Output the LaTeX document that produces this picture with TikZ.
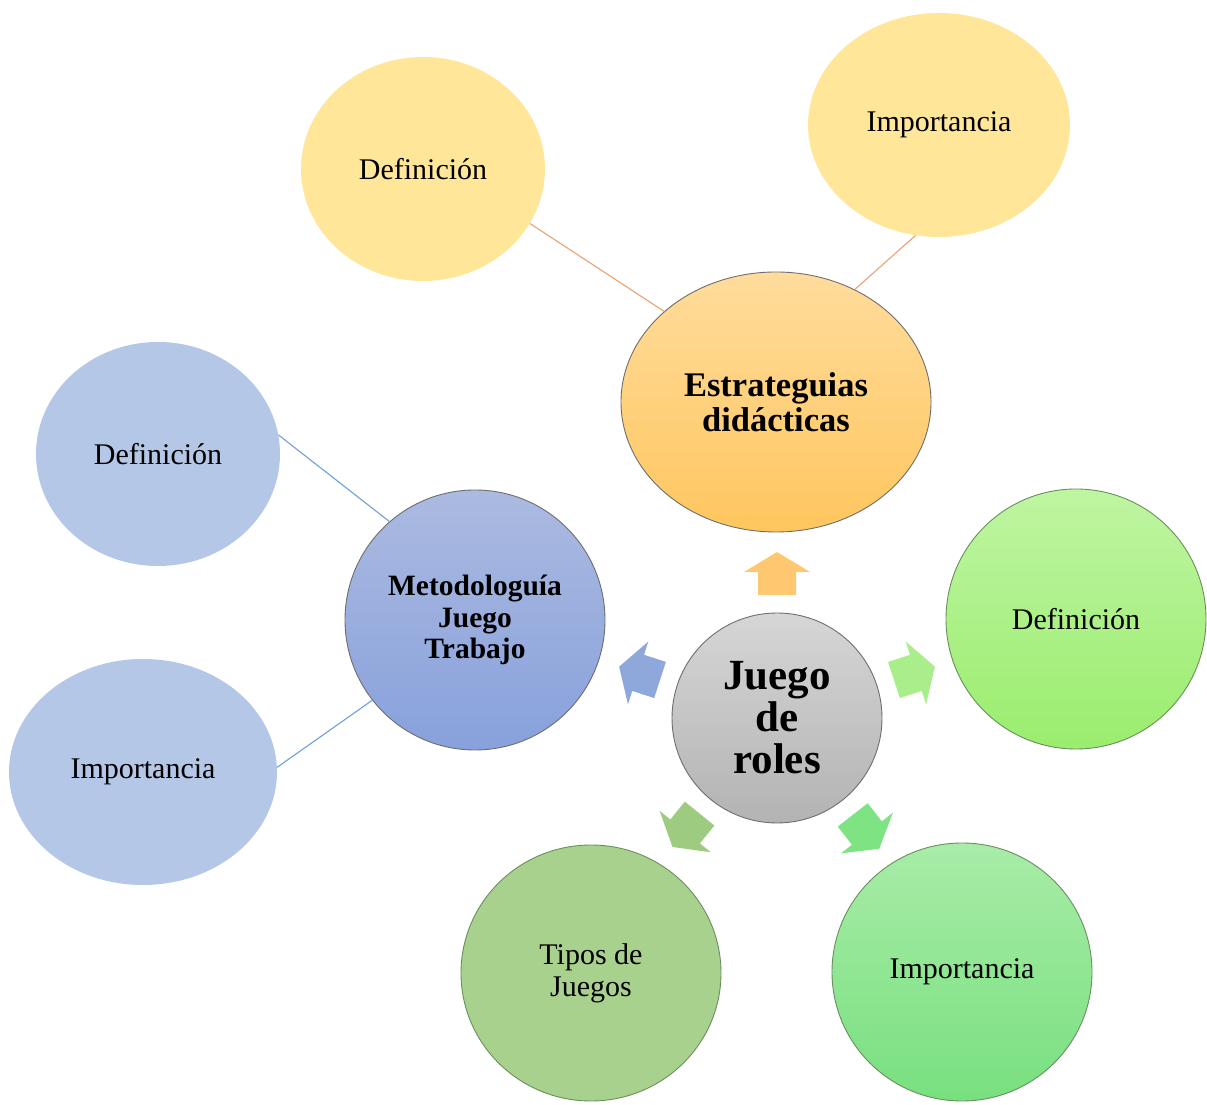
\documentclass[tikz,border=0pt]{standalone}
\usepackage{fontspec}
\setmainfont{Liberation Serif}
\usetikzlibrary{shapes.geometric}

\definecolor{yelsoft}{HTML}{FFE699}
\definecolor{blusoft}{HTML}{B4C7E7}
\definecolor{ortop}{HTML}{FFDC9C}
\definecolor{orbot}{HTML}{FFC65E}
\definecolor{bltop}{HTML}{ABBAE0}
\definecolor{blbot}{HTML}{88A1DC}
\definecolor{grtop}{HTML}{D6D6D6}
\definecolor{grbot}{HTML}{B3B3B3}
\definecolor{lgtop}{HTML}{BFF5A2}
\definecolor{lgbot}{HTML}{9AED6E}
\definecolor{mgtop}{HTML}{A8ECA8}
\definecolor{mgbot}{HTML}{78E07F}
\definecolor{olive}{HTML}{A9D18E}
\definecolor{rimgray}{HTML}{6E6E6E}
\definecolor{rimgreen}{HTML}{6A8F5C}
\definecolor{lineor}{HTML}{E9A272}
\definecolor{linebl}{HTML}{6F9FD8}

\begin{document}
\begin{tikzpicture}[x=1pt,y=1pt,
  bubble/.style={ellipse, inner sep=0pt, align=center, font=\fontsize{30}{32}\selectfont},
  hub/.style={ellipse, inner sep=0pt, align=center, draw=rimgray, line width=0.9pt},
  leafline/.style={line width=1.1pt}]
\useasboundingbox (0,0) rectangle (1207,1105);

\node (e) [hub, top color=ortop, bottom color=orbot, minimum width=310, minimum height=260,
  font=\bfseries\fontsize{34.5}{35}\selectfont] at (776,703) {Estrateguias\\didácticas};
\node (m) [hub, top color=bltop, bottom color=blbot, minimum width=260, minimum height=260,
  font=\bfseries\fontsize{29.5}{31.5}\selectfont] at (475,485) {Metodologuía\\Juego\\Trabajo};
\node (j) [hub, top color=grtop, bottom color=grbot, minimum width=210, minimum height=210,
  font=\bfseries\fontsize{43}{42}\selectfont] at (777,387) {Juego\\de\\roles};

\node (ey1) [bubble, fill=yelsoft, minimum width=244, minimum height=224] at (423,936) {Definición};
\node (ey2) [bubble, fill=yelsoft, minimum width=262, minimum height=224] at (939,980) {Importancia};
\node (mb1) [bubble, fill=blusoft, minimum width=244, minimum height=224] at (158,651) {Definición};
\node (mb2) [bubble, fill=blusoft, minimum width=268, minimum height=226] at (143,333) {Importancia};
\node (g1) [bubble, draw=rimgreen, line width=0.9pt, top color=lgtop, bottom color=lgbot,
  minimum width=260, minimum height=260] at (1076,486) {Definición};
\node (g2) [bubble, draw=rimgreen, line width=0.9pt, top color=mgtop, bottom color=mgbot,
  minimum width=260, minimum height=258] at (962,133) {Importancia};
\node (g3) [bubble, draw=rimgreen, line width=0.9pt, fill=olive,
  minimum width=260, minimum height=256] at (591,132) {Tipos de\\Juegos};

\draw [leafline, lineor] (ey1.-27) -- (e.141);
\draw [leafline, lineor] (ey2.258) -- (e.55);
\draw [leafline, linebl] (mb1.9) -- (m.131);
\draw [leafline, linebl] (mb2.2) -- (m.218);

\foreach \ang/\col in {90/FFC870, 162/8FA8DC, 18/A9EE8A, 231/9DCB80, 308/7DE383} {
  \definecolor{tipcol}{HTML}{\col}
  \fill [tipcol, shift={(j.center)}, rotate=\ang]
    (123,-19) -- (146,-19) -- (146,-33) -- (166,0) -- (146,33) -- (146,19) -- (123,19) -- cycle;
}
\end{tikzpicture}
\end{document}
